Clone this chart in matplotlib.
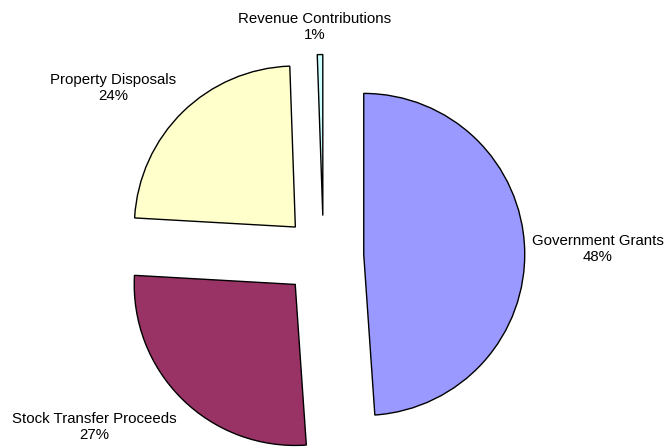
import matplotlib
matplotlib.use("Agg")
import matplotlib.pyplot as plt

# slice shares (%), clockwise from 12 o'clock
labels = ["Government Grants", "Stock Transfer Proceeds", "Property Disposals", "Revenue Contributions"]
shares = [48.9, 27.0, 23.55, 0.55]
# percentages as printed on the chart
pct_text = ["48%", "27%", "24%", "1%"]
colors = ["#9999FF", "#993366", "#FFFFCC", "#CCFFFF"]

plt.rcParams["font.family"] = ["Liberation Sans", "DejaVu Sans"]

W, H = 668, 447
fig = plt.figure(figsize=(W / 100, H / 100), dpi=100)
ax = fig.add_axes([0, 0, 1, 1])
ax.set_xlim(0, W)
ax.set_ylim(0, H)
ax.set_aspect("equal")
ax.axis("off")

cx, cy, r = 323.5, H - 255.8, 161
# every slice pulled out by a quarter of the radius (explode is in data units)
ax.pie(shares, colors=colors, startangle=90, counterclock=False,
       explode=[0.25 * r] * len(shares), center=(cx, cy), radius=r,
       wedgeprops=dict(edgecolor="black", linewidth=1.0))
ax.set_xlim(0, W)
ax.set_ylim(0, H)

# label anchor points (pixels, y measured from top)
label_pos = [(598, 249), (94, 427), (113, 88), (315, 27)]
for name, pct, (lx, ly) in zip(labels, pct_text, label_pos):
    ax.text(lx, H - ly, f"{name}\n{pct}", ha="center", va="center",
            fontsize=10.8, linespacing=1.25)

fig.savefig("out.png", dpi=100)
